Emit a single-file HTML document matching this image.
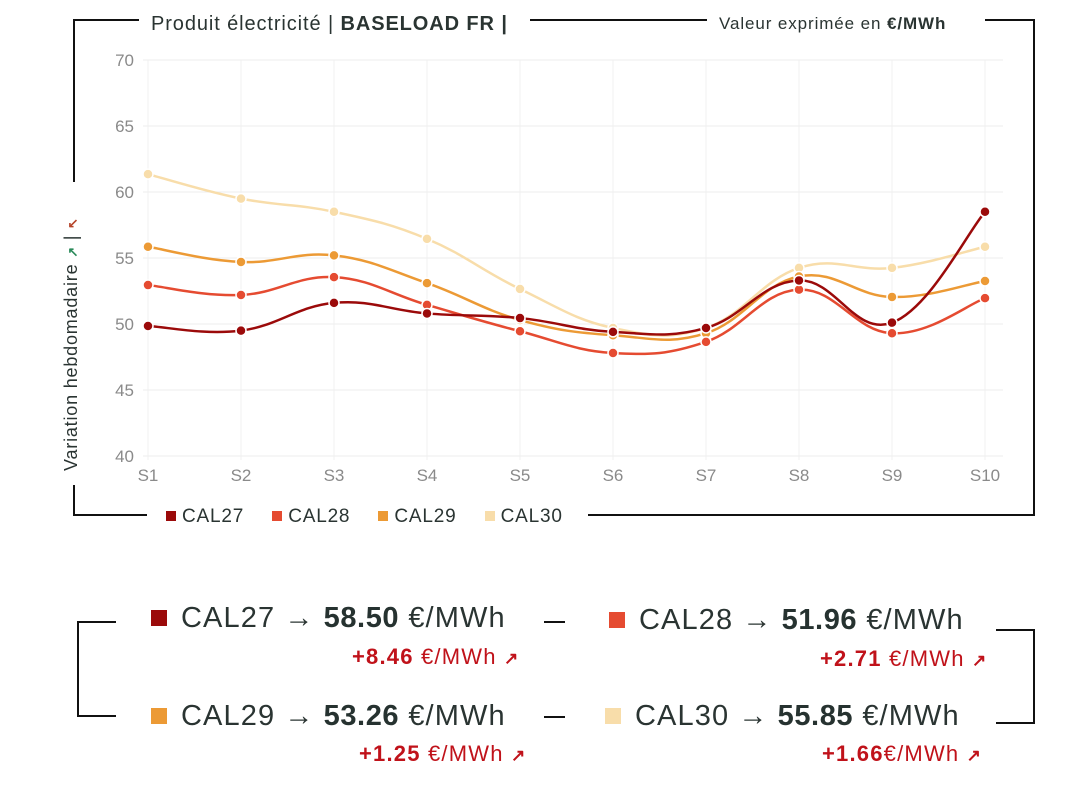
<!DOCTYPE html>
<html><head><meta charset="utf-8">
<style>
body{margin:0;width:1088px;height:785px;background:#fff;font-family:"Liberation Sans",sans-serif;position:relative;overflow:hidden;color:#2a3432}
.a{position:absolute;white-space:nowrap}
.ln{position:absolute;background:#111}
.sq{display:inline-block;width:16px;height:16px;margin-right:14px;vertical-align:1px}
.card{font-size:29px;letter-spacing:1.1px}
.card b{color:#263230;letter-spacing:0.6px}
.delta{font-size:22px;color:#c0121a;letter-spacing:1.2px}
.delta i{font-style:normal;font-size:17px;font-weight:bold}
</style></head><body>
<div class="ln" style="left:73px;top:19px;width:2px;height:163px"></div>
<div class="ln" style="left:73px;top:485px;width:2px;height:31px"></div>
<div class="ln" style="left:73px;top:19px;width:66px;height:2px"></div>
<div class="ln" style="left:530px;top:19px;width:177px;height:2px"></div>
<div class="ln" style="left:985px;top:19px;width:50px;height:2px"></div>
<div class="ln" style="left:1033px;top:19px;width:2px;height:497px"></div>
<div class="ln" style="left:73px;top:514px;width:74px;height:2px"></div>
<div class="ln" style="left:588px;top:514px;width:447px;height:2px"></div>
<div class="a" style="left:151px;top:13px;font-size:20px;letter-spacing:0.9px">Produit électricité | <b>BASELOAD FR |</b></div>
<div class="a" style="left:719px;top:14px;font-size:17px;letter-spacing:0.9px">Valeur exprimée en <b>€/MWh</b></div>
<div class="a" style="left:61px;top:471px;font-size:18px;letter-spacing:0.8px;transform-origin:0 0;transform:rotate(-90deg)">Variation hebdomadaire <span style="color:#2a8a5a;font-size:13px;font-weight:bold">↗</span> | <span style="color:#b5442a;font-size:13px;font-weight:bold">↖</span></div>

<svg class="a" style="left:0;top:0" width="1088" height="540">
<g id="grid"></g><g id="lines"></g><g id="pts"></g>
</svg>

<div class="a" style="left:166px;top:506px;font-size:19px;letter-spacing:0.8px">
<span><span class="sq" style="background:#9b0a0a;width:10px;height:10px;margin-right:6px"></span>CAL27</span>
<span style="margin-left:22px"><span class="sq" style="background:#e54b31;width:10px;height:10px;margin-right:6px"></span>CAL28</span>
<span style="margin-left:22px"><span class="sq" style="background:#ec9a35;width:10px;height:10px;margin-right:6px"></span>CAL29</span>
<span style="margin-left:22px"><span class="sq" style="background:#f8ddaa;width:10px;height:10px;margin-right:6px"></span>CAL30</span>
</div>

<div class="ln" style="left:77px;top:621px;width:2px;height:96px"></div>
<div class="ln" style="left:77px;top:621px;width:39px;height:2px"></div>
<div class="ln" style="left:77px;top:715px;width:39px;height:2px"></div>
<div class="ln" style="left:1033px;top:629px;width:2px;height:95px"></div>
<div class="ln" style="left:996px;top:629px;width:39px;height:2px"></div>
<div class="ln" style="left:996px;top:722px;width:39px;height:2px"></div>
<div class="ln" style="left:544px;top:621px;width:21px;height:2px"></div>
<div class="ln" style="left:544px;top:716px;width:21px;height:2px"></div>

<div class="a card" style="left:151px;top:602px"><span class="sq" style="background:#9b0a0a"></span>CAL27 → <b>58.50</b> €/MWh</div>
<div class="a delta" style="left:352px;top:644px"><b>+8.46</b> €/MWh <i>↗</i></div>
<div class="a card" style="left:609px;top:604px"><span class="sq" style="background:#e54b31"></span>CAL28 → <b>51.96</b> €/MWh</div>
<div class="a delta" style="left:820px;top:646px"><b>+2.71</b> €/MWh <i>↗</i></div>
<div class="a card" style="left:151px;top:700px"><span class="sq" style="background:#ec9a35"></span>CAL29 → <b>53.26</b> €/MWh</div>
<div class="a delta" style="left:359px;top:741px"><b>+1.25</b> €/MWh <i>↗</i></div>
<div class="a card" style="left:605px;top:700px"><span class="sq" style="background:#f8ddaa"></span>CAL30 → <b>55.85</b> €/MWh</div>
<div class="a delta" style="left:822px;top:741px"><b>+1.66</b>€/MWh <i>↗</i></div>

<script>
const categories=["S1","S2","S3","S4","S5","S6","S7","S8","S9","S10"];
const yTicks=[40,45,50,55,60,65,70];
const cal27=[49.85,49.5,51.6,50.8,50.45,49.4,49.7,53.3,50.1,58.5];
const cal28=[52.95,52.2,53.55,51.45,49.45,47.8,48.65,52.6,49.3,51.96];
const cal29=[55.85,54.7,55.2,53.1,50.3,49.15,49.3,53.6,52.05,53.26];
const cal30=[61.35,59.5,58.5,56.45,52.65,49.7,49.7,54.25,54.25,55.85];
const seriesNames=["cal27","cal28","cal29","cal30"];
const seriesColors=["#9b0a0a","#e54b31","#ec9a35","#f8ddaa"];
const NS="http://www.w3.org/2000/svg";
const x0=148,x1=985,yTop=60,yBot=456;
function xs(i){return x0+i*(x1-x0)/(categories.length-1);}
function ys(v){return yBot-(v-40)/(70-40)*(yBot-yTop);}
function mk(t,a,p){const e=document.createElementNS(NS,t);for(const k in a)e.setAttribute(k,a[k]);if(p)p.appendChild(e);return e;}
const grid=document.getElementById('grid');
yTicks.forEach(v=>{
 const l=mk('line',{x1:x0-5,x2:1003,y1:ys(v),y2:ys(v),stroke:'#ececec'},grid);
 
 
 const t=mk('text',{x:134,y:ys(v)+6,'text-anchor':'end','font-size':17,fill:'#8a8a8a','font-family':'Liberation Sans, sans-serif'},grid);
 t.textContent=v;
 
 
});
categories.forEach((c,i)=>{
 const l=mk('line',{x1:xs(i),x2:xs(i),y1:yTop,y2:yBot+4,stroke:'#f0f0f0'},grid);
 
 
 const t=mk('text',{x:xs(i),y:481,'text-anchor':'middle','font-size':17,fill:'#8a8a8a','font-family':'Liberation Sans, sans-serif'},grid);
 t.textContent=c;
 
 
});
function path(vals){
 const p=vals.map((v,i)=>[xs(i),ys(v)]);
 let d='M'+p[0][0]+','+p[0][1];
 for(let i=0;i<p.length-1;i++){
  const a=p[Math.max(0,i-1)],b=p[i],c=p[i+1],e=p[Math.min(p.length-1,i+2)];
  const k=0.2;
  d+=' C'+(b[0]+(c[0]-a[0])*k)+','+(b[1]+(c[1]-a[1])*k)+' '+(c[0]-(e[0]-b[0])*k)+','+(c[1]-(e[1]-b[1])*k)+' '+c[0]+','+c[1];
 }
 return d;
}
const lines=document.getElementById('lines'),pts=document.getElementById('pts');
[cal27,cal28,cal29,cal30].map((s,i)=>[s,i]).reverse().forEach(([s,i])=>{
 const p=mk('path',{d:path(s),fill:'none',stroke:seriesColors[i],'stroke-width':2.5},lines);
 
 
 s.forEach((v,j)=>{
  const c=mk('circle',{cx:xs(j),cy:ys(v),r:5,fill:seriesColors[i],stroke:'#fff','stroke-width':1.5},pts);
  
  
 });
});
</script>
</body></html>
